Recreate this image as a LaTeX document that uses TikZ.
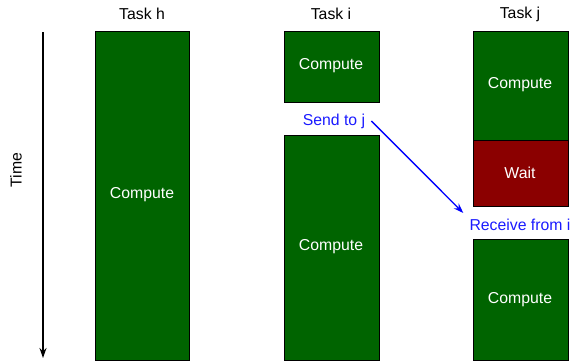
\documentclass[tikz,border=0pt]{standalone}
\usepackage{fontspec}
\setmainfont{Liberation Sans}
\usetikzlibrary{arrows.meta}
\definecolor{taskgreen}{HTML}{006400}
\definecolor{waitred}{HTML}{8B0000}
\definecolor{msgblue}{HTML}{1A1AFF}
\begin{document}
\begin{tikzpicture}[x=1pt,y=-1pt,
  every node/.style={font=\fontsize{15.8}{18}\selectfont},
  compbox/.style={draw=black, line width=0.8pt, fill=taskgreen},
  waitbox/.style={draw=black, line width=0.8pt, fill=waitred},
  boxlabel/.style={text=white},
  msg/.style={text=msgblue, inner sep=6pt},
  msgarrow/.style={draw=blue, line width=1.3pt, -{Stealth[length=10pt,width=7pt]}}]
\useasboundingbox (0,0) rectangle (574,362);
% time axis
\coordinate (t0) at (43,32);
\coordinate (t1) at (43,358);
\draw[line width=1.4pt, -{Stealth[length=10pt,width=7pt]}] (t0) -- (t1);
\node[rotate=90] (time) at (16,170) {Time};
% headers
\node (th) at (142,14) {Task h};
\node (ti) at (331,14) {Task i};
\node (tj) at (520,14) {Task j};
% boxes
\draw[compbox] (95,31) rectangle (189,360);
\node[boxlabel] (h1) at (142,195) {Compute};
\draw[compbox] (284,31) rectangle (379,102);
\node[boxlabel] (i1) at (331,66) {Compute};
\draw[compbox] (284,135) rectangle (379,360);
\node[boxlabel] (i2) at (331,247) {Compute};
\draw[compbox] (473,31) rectangle (568,140);
\node[boxlabel] (j1) at (520,85) {Compute};
\draw[waitbox] (473,140) rectangle (568,206);
\node[boxlabel] (jw) at (520,173) {Wait};
\draw[compbox] (473,239) rectangle (568,360);
\node[boxlabel] (j2) at (520,300) {Compute};
% messages
\node[msg] (send) at (334,121) {Send to j};
\node[msg] (recv) at (520,225) {Receive from i};
\draw[msgarrow] (send.east) -- (recv.north west);
\end{tikzpicture}
\end{document}
